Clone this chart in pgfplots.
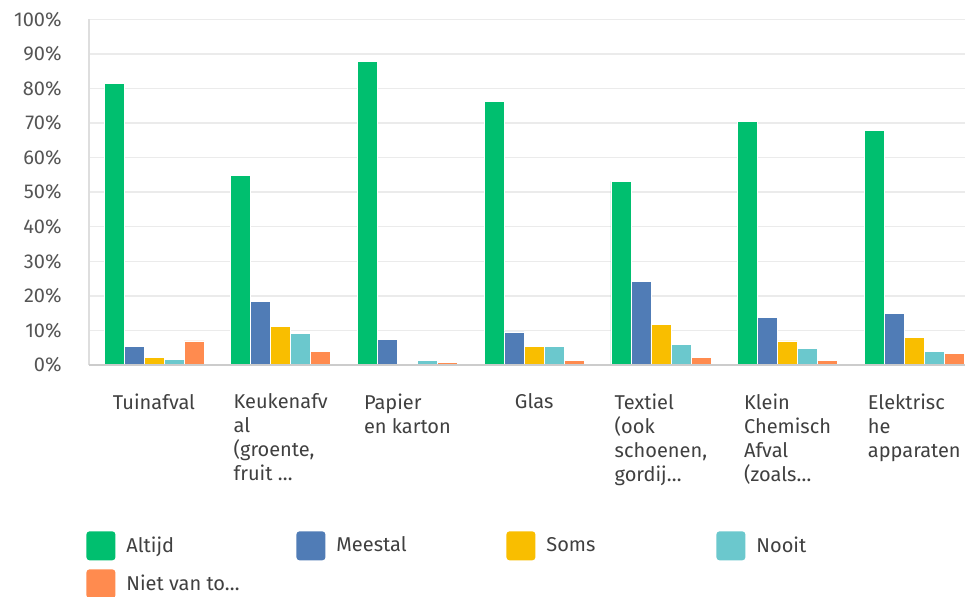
\documentclass[border=0pt]{standalone}
\usepackage{fontspec}
\setmainfont{Fira Sans}
\usepackage{pgfplots}
\pgfplotsset{compat=1.18}
\usetikzlibrary{calc}

\definecolor{cAltijd}{HTML}{00BF6F}
\definecolor{cMeestal}{HTML}{507CB6}
\definecolor{cSoms}{HTML}{F9BE00}
\definecolor{cNooit}{HTML}{6BC8CD}
\definecolor{cNiet}{HTML}{FF8B4F}
\definecolor{gridc}{HTML}{EBEBEB}
\definecolor{txt}{HTML}{404040}
\definecolor{ticktxt}{HTML}{555555}

\begin{document}
\begin{tikzpicture}
\begin{axis}[
  scale only axis,
  width=438pt, height=172.85pt,
  ybar=0pt, bar width=10pt,
  xmin=-0.513, xmax=6.40,
  ymin=0, ymax=100,
  axis lines*=left,
  axis line style={-},
  x axis line style={draw=black!20, line width=0.6pt},
  y axis line style={draw=black!13, line width=0.6pt},
  ymajorgrids, grid style={draw=gridc, line width=0.7pt},
  major tick length=0pt,
  ytick={0,10,...,100},
  yticklabels={0\%,10\%,20\%,30\%,40\%,50\%,60\%,70\%,80\%,90\%,100\%},
  yticklabel style={inner sep=0pt, xshift=-13.5pt, text=ticktxt,
    font=\fontsize{10}{12}\selectfont},
  xtick=data,
  xticklabels={{Tuinafval},{Keukenafv\\al\\(groente,\\fruit …},{Papier\\en karton},
    {Glas},{Textiel\\(ook\\schoenen,\\gordij…},{Klein\\Chemisch\\Afval\\(zoals…},
    {Elektrisc\\he\\apparaten}},
  xticklabel style={inner sep=0pt, yshift=-14pt, anchor=north, align=left,
    text=txt, font=\fontsize{10}{12}\selectfont},
  legend columns=4,
  legend style={draw=none, at={(axis description cs:-0.0034,-0.480)}, anchor=north west,
    inner sep=0pt, column sep=0pt, row sep=4.5pt,
    nodes={inner sep=0pt, text=txt, font=\fontsize{10}{12}\selectfont},
    cells={anchor=west},
    /tikz/every odd column/.append style={column sep=5.5pt}},
  legend image code/.code={\fill[#1, draw=none, rounded corners=1.6pt]
    (0pt,-7.25pt) rectangle (14.5pt,7.25pt);},
  every axis plot/.append style={draw=white, line width=0.3pt},
]
\addplot[fill=cAltijd] coordinates {(0,81.5) (1,54.8) (2,87.8) (3,76.3) (4,53.1) (5,70.4) (6,67.9)};
\addplot[fill=cMeestal] coordinates {(0,5.3) (1,18.5) (2,7.5) (3,9.6) (4,24.3) (5,13.8) (6,14.9)};
\addplot[fill=cSoms] coordinates {(0,2.2) (1,11.2) (2,0) (3,5.4) (4,11.8) (5,7.0) (6,8.0)};
\addplot[fill=cNooit] coordinates {(0,1.6) (1,9.2) (2,1.3) (3,5.4) (4,6.0) (5,4.8) (6,3.9)};
\addplot[fill=cNiet] coordinates {(0,7.0) (1,3.9) (2,0.8) (3,1.3) (4,2.2) (5,1.3) (6,3.3)};
\legend{\makebox[85pt][l]{Altijd},\makebox[85pt][l]{Meestal},\makebox[85pt][l]{Soms},
  \makebox[85pt][l]{Nooit},\makebox[85pt][l]{Niet van to…}}
% baseline redrawn above the bars
\draw[black!20, line width=0.6pt] (rel axis cs:0,0) -- (rel axis cs:1,0);
\end{axis}
\pgfresetboundingbox
\path[use as bounding box] ($(current axis.south west)+(-44.5pt,-115.5pt)$)
  rectangle ($(current axis.north east)+(0pt,9.65pt)$);
\end{tikzpicture}
\end{document}
